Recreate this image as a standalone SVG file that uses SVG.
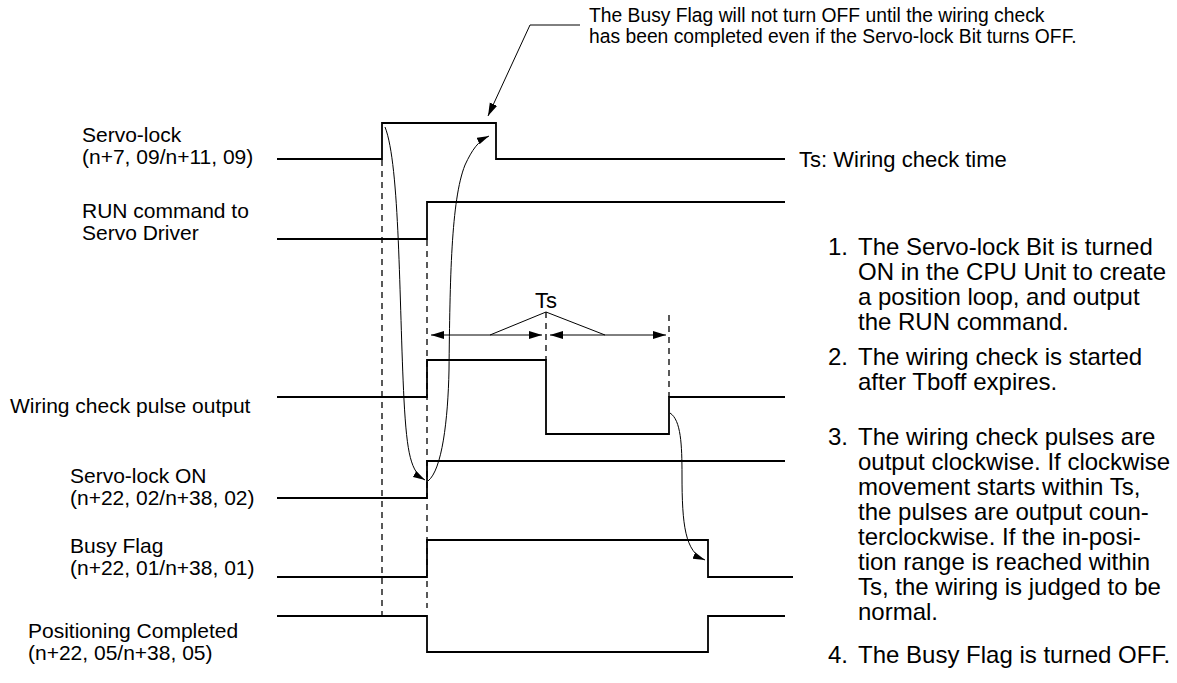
<svg xmlns="http://www.w3.org/2000/svg" width="1177" height="683" viewBox="0 0 1177 683">
<style>
  .lbl { font-family: "Liberation Sans", Arial, sans-serif; font-size: 21px; fill: #000; }
  .note { font-family: "Liberation Sans", Arial, sans-serif; font-size: 24px; fill: #000; }
  .top { font-family: "Liberation Sans", Arial, sans-serif; font-size: 19.3px; fill: #000; }
  .wave { fill: none; stroke: #000; stroke-width: 1.8; }
  .dash { fill: none; stroke: #000; stroke-width: 1.3; stroke-dasharray: 6 5; }
  .thin { fill: none; stroke: #000; stroke-width: 1; }
</style>
<defs>
  <marker id="ah" markerUnits="userSpaceOnUse" markerWidth="14" markerHeight="10" refX="13" refY="4" orient="auto-start-reverse">
    <path d="M0,0 L13,4 L0,8 z" fill="#000"/>
  </marker>
  <marker id="ahs" markerUnits="userSpaceOnUse" markerWidth="13" markerHeight="8" refX="12" refY="3.5" orient="auto">
    <path d="M0,0 L12,3.5 L0,7 z" fill="#000"/>
  </marker>
</defs>
<rect width="1177" height="683" fill="#fff"/>

<g id="sig-servo-lock">
  <text class="lbl" x="82" y="142">Servo-lock</text>
  <text class="lbl" x="82" y="164">(n+7, 09/n+11, 09)</text>
  <path class="wave" d="M277 159 H382 V123 H496 V159 H785"/>
</g>
<g id="sig-run">
  <text class="lbl" x="82" y="218">RUN command to</text>
  <text class="lbl" x="82" y="240">Servo Driver</text>
  <path class="wave" d="M277 239 H427 V202 H785"/>
</g>
<g id="sig-wiring">
  <text class="lbl" x="10" y="413">Wiring check pulse output</text>
  <path class="wave" d="M277 397 H427 V360 H546 V434 H669 V397 H785"/>
</g>
<g id="sig-servo-on">
  <text class="lbl" x="70" y="483">Servo-lock ON</text>
  <text class="lbl" x="70" y="505">(n+22, 02/n+38, 02)</text>
  <path class="wave" d="M277 498 H427 V461 H785"/>
</g>
<g id="sig-busy">
  <text class="lbl" x="70" y="553">Busy Flag</text>
  <text class="lbl" x="70" y="575">(n+22, 01/n+38, 01)</text>
  <path class="wave" d="M277 577 H427 V540 H708 V577 H793"/>
</g>
<g id="sig-positioning">
  <text class="lbl" x="28" y="638">Positioning Completed</text>
  <text class="lbl" x="28" y="660">(n+22, 05/n+38, 05)</text>
  <path class="wave" d="M277 616 H427 V652 H708 V616 H785"/>
</g>

<g id="guides">
  <line class="dash" x1="382" y1="160" x2="382" y2="615"/>
  <line class="dash" x1="427" y1="240" x2="427" y2="608"/>
  <line class="dash" x1="546" y1="312" x2="546" y2="360"/>
  <line class="dash" x1="669" y1="315" x2="669" y2="397"/>
</g>

<g id="ts-dimension">
  <text class="lbl" x="546" y="308" text-anchor="middle" style="font-size:22px">Ts</text>
  <path class="thin" d="M490 335 L546 312 L605 335"/>
  <line class="thin" x1="431" y1="335" x2="542" y2="335" marker-start="url(#ah)" marker-end="url(#ah)"/>
  <line class="thin" x1="550" y1="335" x2="666" y2="335" marker-start="url(#ah)" marker-end="url(#ah)"/>
</g>

<g id="connectors">
  <path class="thin" d="M385 127 C400 165, 399 300, 404 400 C407 455, 411 472, 425 480" marker-end="url(#ahs)"/>
  <path class="thin" d="M428 481 C442 470, 448 420, 449 370 C450 280, 451 200, 465 165 C472 150, 478 141, 489 136" marker-end="url(#ahs)"/>
  <path class="thin" d="M670 413 C681 420, 682 445, 682 475 C682 525, 685 552, 705 560" marker-end="url(#ahs)"/>
  <path class="thin" d="M580 25 H530 L488 116" marker-end="url(#ah)"/>
</g>

<g id="top-note">
  <text class="top" x="589" y="22">The Busy Flag will not turn OFF until the wiring check</text>
  <text class="top" x="589" y="43">has been completed even if the Servo-lock Bit turns OFF.</text>
</g>

<g id="ts-legend">
  <text class="lbl" x="799" y="167" style="font-size:22px">Ts: Wiring check time</text>
</g>

<g id="steps">
  <text class="note" x="828" y="255">1.</text>
  <text class="note" x="858" y="255">The Servo-lock Bit is turned</text>
  <text class="note" x="858" y="280">ON in the CPU Unit to create</text>
  <text class="note" x="858" y="305">a position loop, and output</text>
  <text class="note" x="858" y="330">the RUN command.</text>
  <text class="note" x="828" y="365">2.</text>
  <text class="note" x="858" y="365">The wiring check is started</text>
  <text class="note" x="858" y="390">after Tboff expires.</text>
  <text class="note" x="828" y="445">3.</text>
  <text class="note" x="858" y="445">The wiring check pulses are</text>
  <text class="note" x="858" y="470">output clockwise. If clockwise</text>
  <text class="note" x="858" y="495">movement starts within Ts,</text>
  <text class="note" x="858" y="520">the pulses are output coun-</text>
  <text class="note" x="858" y="545">terclockwise. If the in-posi-</text>
  <text class="note" x="858" y="570">tion range is reached within</text>
  <text class="note" x="858" y="595">Ts, the wiring is judged to be</text>
  <text class="note" x="858" y="620">normal.</text>
  <text class="note" x="828" y="663">4.</text>
  <text class="note" x="858" y="663">The Busy Flag is turned OFF.</text>
</g>
</svg>
